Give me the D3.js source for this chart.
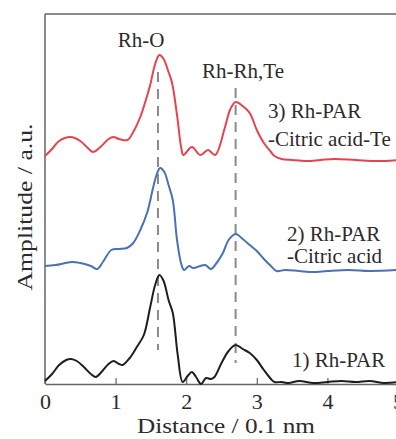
<!DOCTYPE html>
<html>
<head>
<meta charset="utf-8">
<script src="https://cdn.jsdelivr.net/npm/d3@7"></script>
<style>
  body { margin: 0; background: #fff; }
  svg text { font-family: "Liberation Serif", "Times New Roman", Times, serif; fill: #2b2b2b; }
</style>
</head>
<body>
<div id="chart"></div>
<script>
// distance (0.1 nm) and amplitude (a.u.)
const dist1 = [0, 0.1, 0.2, 0.3, 0.37, 0.45, 0.55, 0.65, 0.72, 0.8, 0.9, 0.97, 1.05, 1.1, 1.2, 1.3, 1.4, 1.49, 1.56, 1.62, 1.68, 1.75, 1.81, 1.88, 1.95, 2.02, 2.08, 2.14, 2.21, 2.28, 2.35, 2.4, 2.5, 2.6, 2.7, 2.8, 2.9, 3.0, 3.1, 3.2, 3.25, 3.35, 3.45, 3.6, 3.8, 4.0, 4.2, 4.4, 4.6, 4.8, 5.0];
const amp1 = [3, 10, 19, 24, 25, 23, 17, 10, 7, 12, 20, 23, 20, 19, 26, 37, 49, 77, 99, 109, 103, 84, 71, 29, 2, 8, 12, 7, 0, 6, 5, 7, 21, 33, 39, 35, 31, 24, 14, 5, 2, 2, 1, 3, 1, 2, 3, 2, 3, 1, 2];

const dist2 = [0, 0.15, 0.38, 0.5, 0.65, 0.74, 0.82, 0.94, 1.05, 1.16, 1.25, 1.35, 1.45, 1.53, 1.58, 1.63, 1.69, 1.75, 1.81, 1.87, 1.93, 1.97, 2.04, 2.1, 2.2, 2.27, 2.35, 2.42, 2.52, 2.6, 2.7, 2.8, 2.9, 3.0, 3.1, 3.2, 3.28, 3.4, 3.6, 3.8, 4.0, 4.3, 4.6, 5.0];
const amp2 = [4, 5, 8, 7, 4, 1, 8, 20, 21, 22, 27, 40, 58, 82, 95, 102, 98, 85, 70, 30, 6, 0, 4, 2, 4, 5, 1, 6, 17, 30, 36, 31, 25, 19, 11, 4, -1, 0, -1, -2, -1, 0, -1, 0];

const dist3 = [0, 0.1, 0.2, 0.36, 0.5, 0.62, 0.68, 0.8, 0.9, 0.97, 1.05, 1.17, 1.25, 1.35, 1.42, 1.49, 1.56, 1.62, 1.68, 1.75, 1.8, 1.87, 1.93, 1.96, 2.08, 2.2, 2.31, 2.41, 2.55, 2.62, 2.7, 2.8, 2.9, 3.0, 3.1, 3.2, 3.25, 3.35, 3.5, 3.7, 3.9, 4.1, 4.4, 4.7, 5.0];
const amp3 = [4, 11, 19, 23, 19, 11, 8, 14, 21, 23, 21, 20, 28, 43, 58, 75, 96, 105, 101, 88, 77, 45, 12, 5, 13, 5, 10, 5, 33, 50, 58, 54, 47, 30, 17, 8, 4, 1, 0, -1, 0, 1, 0, -1, 0];

const seriesNames = ["1) Rh-PAR", "2) Rh-PAR\n-Citric acid", "3) Rh-PAR\n-Citric acid-Te"];
const seriesOffsets = [0, 114, 224];
const seriesColors = ["#1e1e1e", "#4a70b6", "#e6434f"];

const peakNames = ["Rh-O", "Rh-Rh,Te"];
const peakDist = [1.6, 2.7];
const peakSpan = [[34, 312], [21, 296]];

const xTicks = [0, 1, 2, 3, 4, 5];

const width = 396, height = 439;
const marginLeft = 45, marginTop = 14, marginBottom = 55;
const serif = "'Liberation Serif', 'Times New Roman', Times, serif";

const x = d3.scaleLinear().domain([0, 5]).range([marginLeft, 398]);
const y = d3.scaleLinear().domain([0, 370]).range([height - marginBottom, marginTop]);

const svg = d3.select("#chart").append("svg")
  .attr("width", width)
  .attr("height", height)
  .attr("font-family", serif);

// frame
svg.append("line")
  .attr("x1", x(0)).attr("x2", x(0))
  .attr("y1", marginTop).attr("y2", y(0))
  .attr("stroke", "#666").attr("stroke-width", 1.5);
svg.append("line")
  .attr("x1", x(0)).attr("x2", width)
  .attr("y1", marginTop).attr("y2", marginTop)
  .attr("stroke", "#666").attr("stroke-width", 1.5);

// x axis, ticks pointing in
svg.append("g")
  .attr("transform", `translate(0,${y(0)})`)
  .call(d3.axisBottom(x).tickValues(xTicks).tickFormat(d3.format("d"))
    .tickSizeInner(-6).tickSizeOuter(0).tickPadding(9))
  .attr("font-family", serif)
  .call(g => g.select(".domain").attr("stroke", "#666").attr("stroke-width", 1.5))
  .call(g => g.selectAll(".tick line").attr("stroke", "#666").attr("stroke-width", 1.2))
  .call(g => g.selectAll(".tick text").attr("font-size", 22));

svg.append("text")
  .attr("x", 226).attr("y", 433)
  .attr("text-anchor", "middle")
  .attr("font-size", 22)
  .attr("textLength", 178).attr("lengthAdjust", "spacingAndGlyphs")
  .text("Distance / 0.1 nm");

svg.append("text")
  .attr("transform", "translate(32,207) rotate(-90)")
  .attr("text-anchor", "middle")
  .attr("font-size", 22)
  .attr("textLength", 167).attr("lengthAdjust", "spacingAndGlyphs")
  .text("Amplitude / a.u.");

// dashed reference lines
svg.append("g").selectAll("line")
  .data(peakDist)
  .join("line")
  .attr("x1", d => x(d)).attr("x2", d => x(d))
  .attr("y1", (d, i) => y(peakSpan[i][1]))
  .attr("y2", (d, i) => y(peakSpan[i][0]))
  .attr("stroke", "#8a8a8a")
  .attr("stroke-width", 2)
  .attr("stroke-dasharray", "10,7");

// curves
const line = d3.line()
  .curve(d3.curveCatmullRom.alpha(0.5))
  .x(d => x(d[0]))
  .y(d => y(d[1]));

const series = [[dist1, amp1], [dist2, amp2], [dist3, amp3]];
svg.append("g")
  .attr("fill", "none")
  .attr("stroke-width", 2)
  .attr("stroke-linejoin", "round")
  .selectAll("path")
  .data(series)
  .join("path")
  .attr("stroke", (d, i) => seriesColors[i])
  .attr("d", ([D, A], i) => line(D.map((v, j) => [v, A[j] + seriesOffsets[i]])));

// peak labels
const peakLabelPos = [[141, 47], [243, 78]];
svg.append("g").selectAll("text")
  .data(peakNames)
  .join("text")
  .attr("x", (d, i) => peakLabelPos[i][0])
  .attr("y", (d, i) => peakLabelPos[i][1])
  .attr("text-anchor", "middle")
  .attr("font-size", 21)
  .text(d => d);

// series labels
const seriesLabelPos = [[292, 367], [287, 241], [268, 118]];
svg.append("g").selectAll("text")
  .data(seriesNames)
  .join("text")
  .attr("x", (d, i) => seriesLabelPos[i][0])
  .attr("y", (d, i) => seriesLabelPos[i][1])
  .attr("font-size", 21)
  .each(function (d, i) {
    d.split("\n").forEach((t, k) => {
      d3.select(this).append("tspan")
        .attr("x", seriesLabelPos[i][0])
        .attr("dy", k === 0 ? 0 : (i === 1 ? 22 : 28))
        .text(t);
    });
  });
</script>
</body>
</html>
